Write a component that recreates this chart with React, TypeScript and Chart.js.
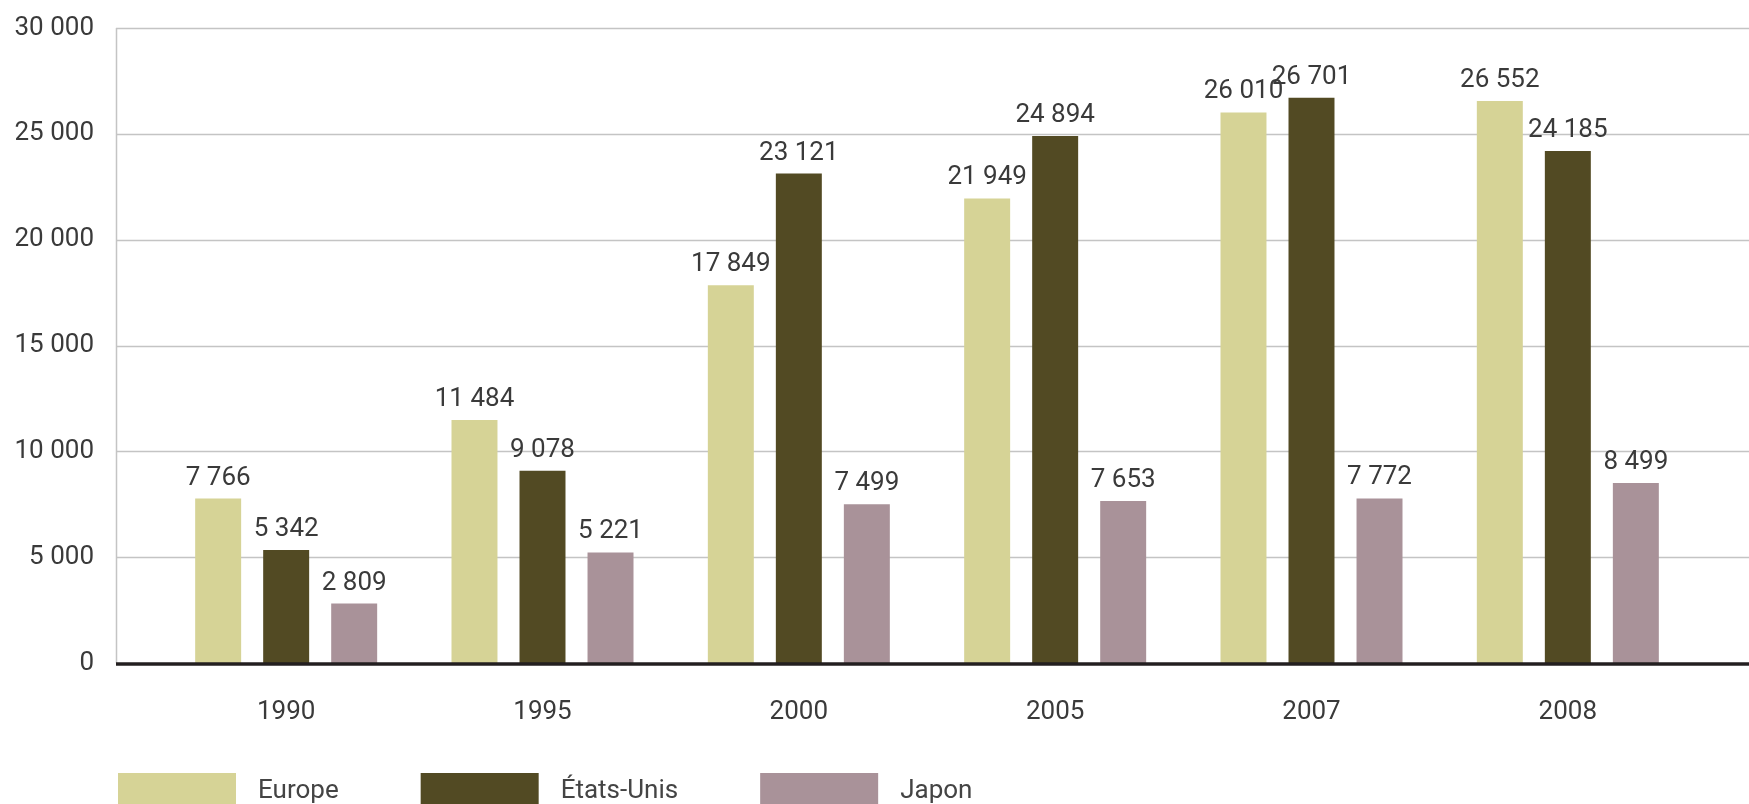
import React, { useEffect, useRef } from 'react';
import { Chart, registerables } from 'chart.js';

Chart.register(...registerables);

const years = ['1990', '1995', '2000', '2005', '2007', '2008'];
const europe = [7766, 11484, 17849, 21949, 26010, 26552];
const etatsUnis = [5342, 9078, 23121, 24894, 26701, 24185];
const japon = [2809, 5221, 7499, 7653, 7772, 8499];
const seriesNames = ['Europe', 'États-Unis', 'Japon'];
const seriesColors = ['#D6D396', '#524A23', '#A99299'];
const yMax = 30000;
const yStep = 5000;

const FONT = 'Roboto, "DejaVu Sans", sans-serif';
const TEXT_COLOR = '#3a3a3a';
const GRID_LEFT = 116;

const fmt = (n: number) => String(n).replace(/\B(?=(\d{3})+(?!\d))/g, ' ');

const decorPlugin = {
  id: 'decor',
  beforeDatasetsDraw(chart: any) {
    const { ctx, scales } = chart;
    const y = scales.y;
    ctx.save();
    ctx.strokeStyle = '#c4c4c4';
    ctx.lineWidth = 1.5;
    y.ticks.forEach((t: any) => {
      if (t.value === 0) return;
      const py = Math.round(y.getPixelForValue(t.value)) + 0.5;
      ctx.beginPath();
      ctx.moveTo(GRID_LEFT, py);
      ctx.lineTo(chart.width, py);
      ctx.stroke();
    });
    ctx.beginPath();
    ctx.moveTo(GRID_LEFT + 0.5, y.getPixelForValue(y.max));
    ctx.lineTo(GRID_LEFT + 0.5, y.getPixelForValue(0));
    ctx.stroke();
    ctx.restore();
  },
  afterDatasetsDraw(chart: any) {
    const { ctx, scales } = chart;
    const y = scales.y;
    ctx.save();
    const y0 = y.getPixelForValue(0) + 1;
    ctx.strokeStyle = '#231f20';
    ctx.lineWidth = 3.5;
    ctx.beginPath();
    ctx.moveTo(GRID_LEFT, y0);
    ctx.lineTo(chart.width, y0);
    ctx.stroke();
    ctx.fillStyle = TEXT_COLOR;
    ctx.font = `26px ${FONT}`;
    ctx.textAlign = 'center';
    ctx.textBaseline = 'alphabetic';
    chart.data.datasets.forEach((ds: any, i: number) => {
      const meta = chart.getDatasetMeta(i);
      meta.data.forEach((el: any, j: number) => {
        ctx.fillText(fmt(ds.data[j]), el.x, el.y - 14);
      });
    });
    ctx.restore();
  },
  afterDraw(chart: any) {
    const { ctx } = chart;
    ctx.save();
    ctx.font = `26px ${FONT}`;
    ctx.textBaseline = 'alphabetic';
    ctx.textAlign = 'left';
    let x = 118;
    chart.data.datasets.forEach((ds: any) => {
      ctx.fillStyle = ds.backgroundColor;
      ctx.fillRect(x, 773, 118, 40);
      const tx = x + 118 + 22;
      const w = ctx.measureText(ds.label).width;
      ctx.fillStyle = '#444';
      ctx.fillText(ds.label, tx, 798);
      x = tx + w + 82;
    });
    ctx.restore();
  },
};

export default function App() {
  const canvasRef = useRef<HTMLCanvasElement | null>(null);

  useEffect(() => {
    if (!canvasRef.current) return;
    const values = [europe, etatsUnis, japon];
    const chart = new Chart(canvasRef.current, {
      type: 'bar',
      data: {
        labels: years,
        datasets: seriesNames.map((name, i) => ({
          label: name,
          data: values[i],
          backgroundColor: seriesColors[i],
          borderWidth: 0,
          categoryPercentage: 0.796,
          barPercentage: 0.676,
        })),
      },
      options: {
        animation: false,
        responsive: true,
        maintainAspectRatio: false,
        layout: { padding: { left: 0, right: 53, top: 28, bottom: 0 } },
        plugins: {
          legend: { display: false },
          tooltip: { enabled: false },
        },
        scales: {
          x: {
            grid: { display: false, drawTicks: false },
            border: { display: false },
            ticks: {
              color: TEXT_COLOR,
              font: { family: FONT, size: 26 },
              padding: 34,
            },
            afterFit: (s: any) => {
              s.height = 141;
              s.paddingLeft = 0;
              s.paddingRight = 0;
            },
          },
          y: {
            min: 0,
            max: yMax,
            grid: { display: false, drawTicks: false },
            border: { display: false },
            ticks: {
              stepSize: yStep,
              color: TEXT_COLOR,
              font: { family: FONT, size: 26 },
              padding: 64,
              callback: (v: any) => fmt(Number(v)),
            },
            afterFit: (s: any) => {
              s.width = 158;
              s.paddingTop = 0;
              s.paddingBottom = 0;
            },
          },
        },
      },
      plugins: [decorPlugin],
    });
    return () => chart.destroy();
  }, []);

  return (
    <div style={{ position: 'absolute', left: 0, top: 0, width: 1749, height: 804, background: '#fff' }}>
      <canvas ref={canvasRef} />
    </div>
  );
}
